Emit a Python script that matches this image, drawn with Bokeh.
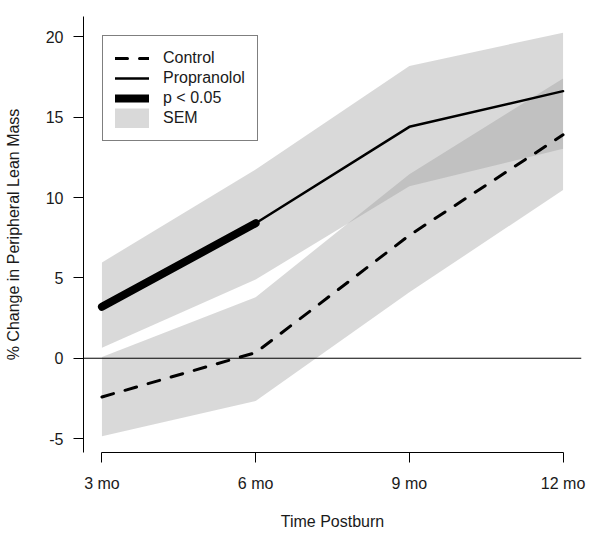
from bokeh.plotting import figure
from bokeh.models import FixedTicker, Span, Legend, LegendItem, Range1d
from bokeh.embed import file_html
from bokeh.resources import INLINE

# ---- data ----
x_pos = [1, 2, 3, 4]
x_labels = ["3 mo", "6 mo", "9 mo", "12 mo"]

control_mean = [-2.41, 0.35, 7.65, 13.9]
control_upper = [0.08, 3.8, 11.45, 17.4]
control_lower = [-4.86, -2.66, 4.1, 10.47]

prop_mean = [3.2, 8.4, 14.4, 16.62]
prop_upper = [5.96, 11.75, 18.18, 20.26]
prop_lower = [0.66, 4.9, 10.7, 13.03]

sig_idx = [0, 1]  # time points where p < 0.05 (3 mo - 6 mo)
y_ticks = [-5, 0, 5, 10, 15, 20]

# ---- styling ----
FONT = "Liberation Sans"
FS = "16px"
BAND = "#989898"
BAND_ALPHA = 0.37
TXT = "#1a1a1a"

ymin = min(control_lower + prop_lower)
ymax = max(control_upper + prop_upper)
ypad = 0.04 * (ymax - ymin)
xpad = 0.04 * (x_pos[-1] - x_pos[0])

p = figure(width=601, height=541, output_backend="svg", toolbar_location=None,
           x_range=Range1d(x_pos[0] - xpad, x_pos[-1] + xpad),
           y_range=Range1d(ymin - ypad, ymax + ypad),
           min_border_left=83, min_border_right=20, min_border_top=16,
           min_border_bottom=89)
p.grid.visible = False
p.outline_line_color = None
p.background_fill_color = "white"
p.border_fill_color = "white"

# SEM bands
p.varea(x=x_pos, y1=control_lower, y2=control_upper,
        fill_color=BAND, fill_alpha=BAND_ALPHA)
p.varea(x=x_pos, y1=prop_lower, y2=prop_upper,
        fill_color=BAND, fill_alpha=BAND_ALPHA)

# zero line
p.add_layout(Span(location=0, dimension="width", line_color="black", line_width=1))

# lines
r_ctrl = p.line(x_pos, control_mean, line_color="black", line_width=3,
                line_dash="12 12", line_cap="round", line_join="round")
r_prop = p.line(x_pos, prop_mean, line_color="black", line_width=2.5,
                line_cap="round", line_join="round")
r_sig = p.line([x_pos[i] for i in sig_idx], [prop_mean[i] for i in sig_idx],
               line_color="black", line_width=8, line_cap="round")
r_sem = p.line(x=[float("nan")], y=[float("nan")], line_color=BAND,
               line_alpha=BAND_ALPHA, line_width=20, line_cap="round")

# axes
p.xaxis.ticker = FixedTicker(ticks=x_pos)
p.xaxis.major_label_overrides = {x: lab for x, lab in zip(x_pos, x_labels)}
p.xaxis.bounds = (x_pos[0], x_pos[-1])
p.xaxis.axis_label = "Time Postburn"
p.yaxis.ticker = FixedTicker(ticks=y_ticks)
p.yaxis.major_label_overrides = {t: str(t) for t in y_ticks}
p.yaxis.axis_label = "% Change in Peripheral Lean Mass"

for ax in (p.xaxis[0], p.yaxis[0]):
    ax.axis_line_color = "black"
    ax.axis_line_width = 1
    ax.major_tick_line_color = "black"
    ax.major_tick_out = 10
    ax.major_tick_in = 0
    ax.minor_tick_line_color = None
    ax.major_label_text_font = FONT
    ax.major_label_text_font_size = FS
    ax.major_label_text_color = TXT
    ax.axis_label_text_font = FONT
    ax.axis_label_text_font_size = FS
    ax.axis_label_text_font_style = "normal"
    ax.axis_label_text_color = TXT

p.xaxis.major_label_standoff = 12
p.xaxis.axis_label_standoff = 18
p.yaxis.major_label_standoff = 10
p.yaxis.axis_label_standoff = 21
p.yaxis.major_label_orientation = "horizontal"

legend = Legend(items=[
    LegendItem(label="Control", renderers=[r_ctrl]),
    LegendItem(label="Propranolol", renderers=[r_prop]),
    LegendItem(label="p < 0.05", renderers=[r_sig]),
    LegendItem(label="SEM", renderers=[r_sem]),
], location=(19, 311))
legend.margin = 0
legend.padding = 12
legend.spacing = 0
legend.glyph_width = 34
legend.glyph_height = 20
legend.label_height = 20
legend.label_standoff = 14
legend.label_text_font = FONT
legend.label_text_font_size = FS
legend.label_text_color = TXT
legend.border_line_color = "black"
legend.border_line_width = 1
legend.background_fill_color = "white"
legend.background_fill_alpha = 1
p.add_layout(legend, "center")

open("out.html", "w").write(file_html(p, INLINE))
